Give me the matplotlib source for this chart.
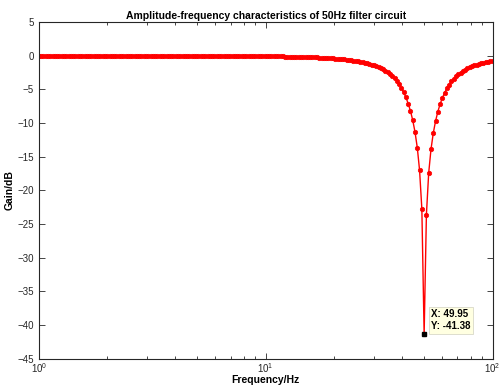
import matplotlib
matplotlib.use('Agg')
import matplotlib.pyplot as plt
from matplotlib.ticker import LogLocator, FixedLocator, NullFormatter

plt.rcParams['font.family'] = ['Liberation Sans', 'DejaVu Sans']
plt.rcParams['mathtext.fontset'] = 'custom'
plt.rcParams['mathtext.rm'] = 'Liberation Sans'
plt.rcParams['mathtext.it'] = 'Liberation Sans'

# frequency points (Hz)
freq = [1.000, 1.023, 1.047, 1.072, 1.097, 1.123, 1.149, 1.176, 1.203, 1.232,
        1.260, 1.290, 1.320, 1.351, 1.383, 1.415, 1.448, 1.482, 1.517, 1.552,
        1.589, 1.626, 1.664, 1.703, 1.743, 1.783, 1.825, 1.868, 1.912, 1.956,
        2.002, 2.049, 2.097, 2.146, 2.196, 2.248, 2.300, 2.354, 2.409, 2.466,
        2.524, 2.583, 2.643, 2.705, 2.768, 2.833, 2.899, 2.967, 3.037, 3.108,
        3.181, 3.255, 3.331, 3.409, 3.489, 3.571, 3.654, 3.740, 3.828, 3.917,
        4.009, 4.103, 4.199, 4.297, 4.398, 4.501, 4.606, 4.714, 4.824, 4.937,
        5.053, 5.171, 5.292, 5.416, 5.543, 5.672, 5.805, 5.941, 6.080, 6.223,
        6.368, 6.517, 6.670, 6.826, 6.986, 7.149, 7.317, 7.488, 7.663, 7.843,
        8.026, 8.214, 8.407, 8.603, 8.805, 9.011, 9.222, 9.438, 9.659, 9.885,
        10.116, 10.353, 10.596, 10.844, 11.098, 11.357, 11.623, 11.895, 12.174, 12.459,
        12.751, 13.049, 13.355, 13.667, 13.987, 14.315, 14.650, 14.993, 15.344, 15.703,
        16.071, 16.447, 16.832, 17.226, 17.629, 18.042, 18.464, 18.897, 19.339, 19.792,
        20.255, 20.729, 21.215, 21.711, 22.220, 22.740, 23.272, 23.817, 24.375, 24.945,
        25.529, 26.127, 26.738, 27.364, 28.005, 28.661, 29.332, 30.018, 30.721, 31.440,
        32.177, 32.930, 33.701, 34.490, 35.297, 36.124, 36.969, 37.835, 38.721, 39.627,
        40.555, 41.504, 42.476, 43.470, 44.488, 45.530, 46.595, 47.686, 48.803, 49.945,
        51.115, 52.311, 53.536, 54.789, 56.072, 57.385, 58.728, 60.103, 61.510, 62.950,
        64.424, 65.932, 67.476, 69.055, 70.672, 72.327, 74.020, 75.753, 77.527, 79.342,
        81.199, 83.100, 85.045, 87.036, 89.074, 91.159, 93.294, 95.478, 97.713, 100.000]

# gain (dB)
gain = [0.00, 0.00, 0.00, 0.00, 0.00, 0.00, 0.00, 0.00, 0.00, 0.00,
        0.00, 0.00, 0.00, 0.00, 0.00, 0.00, 0.00, 0.00, 0.00, 0.00,
        0.00, 0.00, 0.00, 0.00, 0.00, 0.00, 0.00, 0.00, 0.00, 0.00,
        0.00, 0.00, 0.00, 0.00, 0.00, 0.00, 0.00, 0.00, 0.00, 0.00,
        0.00, -0.01, -0.01, -0.01, -0.01, -0.01, -0.01, -0.01, -0.01, -0.01,
        -0.01, -0.01, -0.01, -0.01, -0.01, -0.01, -0.01, -0.01, -0.01, -0.01,
        -0.013, -0.013, -0.014, -0.014, -0.015, -0.016, -0.017, -0.017, -0.018, -0.019,
        -0.020, -0.021, -0.022, -0.023, -0.024, -0.025, -0.027, -0.028, -0.029, -0.031,
        -0.032, -0.034, -0.036, -0.037, -0.039, -0.041, -0.043, -0.045, -0.047, -0.050,
        -0.052, -0.055, -0.057, -0.060, -0.063, -0.067, -0.070, -0.073, -0.077, -0.081,
        -0.085, -0.089, -0.094, -0.099, -0.104, -0.109, -0.115, -0.121, -0.127, -0.134,
        -0.141, -0.149, -0.157, -0.165, -0.174, -0.184, -0.194, -0.205, -0.216, -0.228,
        -0.241, -0.255, -0.270, -0.285, -0.302, -0.320, -0.339, -0.360, -0.382, -0.406,
        -0.431, -0.459, -0.488, -0.520, -0.555, -0.592, -0.633, -0.677, -0.725, -0.778,
        -0.835, -0.898, -0.967, -1.043, -1.126, -1.219, -1.321, -1.435, -1.562, -1.705,
        -1.865, -2.045, -2.248, -2.479, -2.742, -3.043, -3.389, -3.790, -4.255, -4.798,
        -5.438, -6.198, -7.110, -8.219, -9.594, -11.345, -13.673, -17.029, -22.789, -41.38,
        -23.609, -17.433, -13.937, -11.536, -9.741, -8.336, -7.206, -6.278, -5.505, -4.854,
        -4.302, -3.830, -3.425, -3.074, -2.769, -2.502, -2.269, -2.063, -1.880, -1.719,
        -1.575, -1.447, -1.332, -1.228, -1.135, -1.050, -0.974, -0.904, -0.841, -0.783]

tip_x = 49.95
tip_y = -41.38

fig = plt.figure(figsize=(4.99, 3.87), dpi=100)
ax = fig.add_axes([0.078, 0.0736, 0.909, 0.8695])

ax.semilogx(freq, gain, color='red', lw=1.0, marker='o', ms=3.2,
            mec='red', mfc='red', mew=0.5)
ax.plot([tip_x], [tip_y], marker='s', ms=3.5, color='black', ls='none', zorder=5)
ax.annotate('X: %.2f\nY: %.2f' % (tip_x, tip_y), xy=(tip_x, tip_y),
            xytext=(5, 2), textcoords='offset points', fontsize=7,
            fontweight='bold', ha='left', va='bottom', linespacing=1.3,
            bbox=dict(boxstyle='square,pad=0.25', fc='#ffffe1', ec='#d8d8c8', lw=0.6))

ax.set_xlim(1, 100)
ax.set_ylim(-45, 5)
ax.set_yticks(range(-45, 6, 5))
ax.xaxis.set_major_locator(FixedLocator([1, 10, 100]))
ax.set_xticklabels([r'$10^0$', r'$10^1$', r'$10^2$'])
ax.xaxis.set_minor_locator(LogLocator(base=10, subs=range(2, 10)))
ax.xaxis.set_minor_formatter(NullFormatter())

ax.tick_params(which='both', direction='in', top=True, right=True,
               labelsize=7, width=0.6, colors='#262626')
ax.tick_params(which='major', length=4)
ax.tick_params(which='minor', length=2.5)
ax.tick_params(axis='x', pad=2)
for s in ax.spines.values():
    s.set_linewidth(0.8)
    s.set_color('#262626')

ax.set_title('Amplitude-frequency characteristics of 50Hz filter circuit',
             fontsize=7.5, fontweight='bold', pad=2)
ax.set_xlabel('Frequency/Hz', fontsize=7.5, fontweight='bold', labelpad=0)
ax.set_ylabel('Gain/dB', fontsize=7.5, fontweight='bold', labelpad=2)

fig.savefig('out.png', dpi=100)
